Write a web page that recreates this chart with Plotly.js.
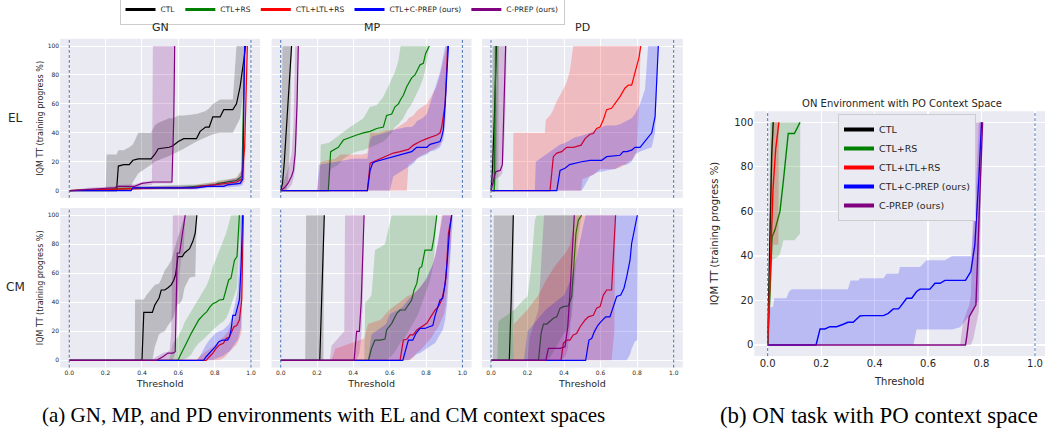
<!DOCTYPE html>
<html><head><meta charset="utf-8">
<script src="https://cdn.plot.ly/plotly-3.0.1.min.js"></script>
<style>html,body{margin:0;padding:0;background:#fff}#chart{width:1045px;height:433px}</style>
</head><body><div id="chart"></div>
<script>
// ---------------- labels / categories ----------------
const SERIES = ['CTL', 'CTL+RS', 'CTL+LTL+RS', 'CTL+C-PREP (ours)', 'C-PREP (ours)'];
const ENVIRONMENTS = ['GN', 'MP', 'PD'];
const CONTEXT_SPACES = ['EL', 'CM'];
const X_TICKS = [0, 0.2, 0.4, 0.6, 0.8, 1.0];
const X_TICK_LABELS = ['0.0', '0.2', '0.4', '0.6', '0.8', '1.0'];
const Y_TICKS = [0, 20, 40, 60, 80, 100];
const THRESHOLD_BOUNDS = [0, 1];
const Y_TITLE = 'IQM TT (training progress %)';
const X_TITLE = 'Threshold';
const RIGHT_TITLE = 'ON Environment with PO Context Space';
const CAPTION_A = '(a) GN, MP, and PD environments with EL and CM context spaces';
const CAPTION_B = '(b) ON task with PO context space';

// ---------------- data: [threshold, IQM, lower, upper] ----------------
// GN / EL
const GN_EL_CTL = [[0,0,0,0],[0.2,0,0,0],[0.205,0,0,25],[0.26,0,0,25],[0.27,17,0,28],[0.3,18,0,28],[0.33,18,0,30],[0.35,21,6,32],[0.38,22,12,40],[0.45,22,18,40],[0.47,25,20,45],[0.49,29,21,47],[0.55,30,24,50],[0.57,31,25,50],[0.6,34,27,52],[0.63,36,29,52],[0.7,36,34,53],[0.72,41,35,54],[0.75,44,37,55],[0.77,44,38,57],[0.79,51,39,60],[0.83,51,40,63],[0.85,56,40,63],[0.9,56,40,63],[0.92,60,45,100],[0.94,72,50,100],[0.96,90,70,100],[0.97,100,100,100]];
const GN_EL_RS = [[0,0,0,0],[0.1,0.5,0,1.5],[0.3,1,0,2.5],[0.4,2,1,3],[0.6,2,1,3.5],[0.7,3,2,4.5],[0.8,4,2.5,6],[0.82,5,3,7],[0.88,6,4,8],[0.92,7,5,9],[0.95,10,6,15],[0.965,100,100,100]];
const GN_EL_LTL = [[0,0,0,0],[0.3,1,0,2],[0.5,2,1,3],[0.68,2,1,3.5],[0.72,3,2,4.5],[0.8,4,2.5,6],[0.85,5,3,7],[0.92,6,4,9],[0.95,8,5,14],[0.965,30,6,100],[0.98,100,100,100]];
const GN_EL_CPREP_CTL = [[0,0,0,0],[0.34,0,0,1],[0.35,2,1,3],[0.7,2,1,3.5],[0.76,3,2,4.5],[0.85,3,2,6],[0.87,4,2.5,7],[0.94,5,3,9],[0.955,8,4,20],[0.965,100,100,100]];
const GN_EL_CPREP = [[0,0,0,0],[0.1,1,0,2],[0.25,2,1,3],[0.27,3,2,4],[0.36,3,2,4.5],[0.4,5,3,6],[0.455,6,4,7],[0.46,6,5,100],[0.565,6,5,100],[0.575,50,40,100],[0.58,100,100,100]];
// MP / EL
const MP_EL_CTL = [[0,0,0,0],[0.01,5,0,100],[0.02,20,0,100],[0.03,40,0,100],[0.04,65,5,100],[0.05,85,30,100],[0.06,100,100,100]];
const MP_EL_RS = [[0,0,0,0],[0.215,0,0,0],[0.22,0,0,32],[0.262,0,0,33],[0.275,27,15,34],[0.317,30,18,38],[0.345,35,22,41],[0.382,37,25,44],[0.418,38.5,27,47],[0.455,40,28,50],[0.492,41,30,58],[0.528,43,32,59],[0.565,44,34,65],[0.583,52,36,70],[0.611,53,40,78],[0.629,58,44,82],[0.648,60,46,90],[0.66,63,48,100],[0.675,66,50,100],[0.694,72,55,100],[0.721,78,60,100],[0.739,80,65,100],[0.767,87,72,100],[0.785,88,78,100],[0.798,95,85,100],[0.818,100,100,100]];
const MP_EL_LTL = [[0,0,0,0],[0.2,0,0,0],[0.22,0,0,20],[0.3,0,0,22],[0.33,0,0,25],[0.45,0,0,25],[0.477,0,0,26],[0.492,19,0,40],[0.51,20,0,40],[0.538,22,0,40],[0.565,23,0,41],[0.593,25,0,42],[0.62,26,0,42],[0.657,27,0,45],[0.694,28,0,48],[0.703,28.5,18,50],[0.73,31.5,20,52],[0.749,33,22,55],[0.767,34,24,57],[0.804,36,26,60],[0.831,37,28,66],[0.859,38.5,30,72],[0.877,40,32,80],[0.886,44,38,85],[0.905,60,50,95],[0.914,83,75,100],[0.919,100,100,100]];
const MP_EL_CPREP_CTL = [[0,0,0,0],[0.2,0,0,0],[0.21,0,0,18],[0.3,0,0,20],[0.4,0,0,22],[0.477,0,0,22],[0.492,14,0,35],[0.506,19,0,38],[0.519,20,0,38],[0.547,21,0,39],[0.583,22,0,40],[0.6,22.5,0,41],[0.62,23.5,10,42],[0.657,24.5,13,43],[0.694,26,16,44],[0.721,27,18,44],[0.739,29,20,46],[0.749,30,22,48],[0.78,30,24,50],[0.804,30,25,53],[0.822,32,27,60],[0.85,33,28,70],[0.877,34,30,82],[0.886,37,32,88],[0.895,42,35,95],[0.905,60,45,100],[0.914,83,70,100],[0.923,100,100,100]];
const MP_EL_CPREP = [[0,0,0,0],[0.02,2,0,8],[0.04,5,1,15],[0.06,10,4,25],[0.07,14,8,45],[0.08,26,15,100],[0.09,60,40,100],[0.097,100,100,100]];
// PD / EL
const PD_EL_CTL = [[0,0,0,0],[0.008,15,0,100],[0.018,50,0,100],[0.026,85,5,100],[0.03,100,20,100],[0.04,100,100,100]];
const PD_EL_RS = [[0,0,0,0],[0.012,0,0,0],[0.015,0,0,100],[0.018,0,0,100],[0.026,100,0,100],[0.04,100,0,100],[0.044,100,100,100]];
const PD_EL_LTL = [[0,0,0,0],[0.12,0,0,0],[0.122,0,0,40],[0.295,0,0,40],[0.3,0,0,49],[0.323,0,0,52],[0.341,23.5,0,56],[0.36,26,0,62],[0.387,27,0,68],[0.414,30,0,75],[0.432,30,0,83],[0.45,30,0,100],[0.493,31.5,0,100],[0.5,33,8,100],[0.515,36,9,100],[0.542,39,10,100],[0.56,39.5,11,100],[0.578,43,13,100],[0.597,44,15,100],[0.615,49,15,100],[0.633,56,15,100],[0.66,57,15,100],[0.679,60,15,100],[0.706,65,16,100],[0.734,71,18,100],[0.752,73,20,100],[0.77,73,21,100],[0.788,81,24,100],[0.8,86,28,100],[0.81,92,60,100],[0.82,100,100,100]];
const PD_EL_CPREP_CTL = [[0,0,0,0],[0.24,0,0,0],[0.245,0,0,20],[0.3,0,0,25],[0.36,0,0,30],[0.378,14,0,32],[0.405,15.5,0,33],[0.43,18,0,35],[0.46,19,0,37],[0.496,20,0,38],[0.542,21,10,40],[0.59,21,13,43],[0.606,21,13,44],[0.633,23.5,14,45],[0.68,24,15,45],[0.706,24.5,17,46],[0.724,27,18,47],[0.743,27,18,48],[0.77,28,20,50],[0.788,30,25,53],[0.816,30,27,60],[0.843,34,28,70],[0.86,37,29,100],[0.88,40,30,100],[0.898,51,40,100],[0.907,72,60,100],[0.912,90,80,100],[0.916,100,100,100]];
const PD_EL_CPREP = [[0,0,0,0],[0.025,13,8,40],[0.035,13.5,9,100],[0.05,14,10,100],[0.062,18,12,100],[0.07,50,25,100],[0.08,100,60,100],[0.086,100,100,100]];
// GN / CM
const GN_CM_CTL = [[0,0,0,0],[0.36,0,0,0],[0.362,0,0,42],[0.4,0,0,42],[0.41,33,0,42],[0.425,33,0,45],[0.457,33,0,50],[0.47,38,9,52],[0.494,43,18,53],[0.506,48.5,19,56],[0.525,48.5,20,62],[0.543,50,24,65],[0.561,52,27,69],[0.574,55,30,75],[0.585,59,35,80],[0.598,71.5,39,85],[0.607,71.5,39,88],[0.622,71.5,42,95],[0.634,74,50,100],[0.662,77,57,100],[0.68,82,57.7,100],[0.693,87.6,57.7,100],[0.702,100,100,100]];
const GN_CM_RS = [[0,0,0,0],[0.55,0,0,0],[0.57,0,0,11.7],[0.598,0,0,16],[0.607,2.5,0,18.6],[0.622,6,0,22],[0.634,9.4,1,26],[0.653,14,2,30],[0.671,18.6,4,33],[0.689,23,8,37],[0.713,28,12,42],[0.735,31,14,47],[0.757,33.6,17,52],[0.775,37,19,58],[0.79,39,21,64.6],[0.808,40,23,70],[0.826,41.6,25,76],[0.848,42,26.7,82],[0.863,48.5,29,87.6],[0.877,55.4,33,94],[0.89,56.6,37,100],[0.909,69,45,100],[0.923,71.5,50,100],[0.936,100,80,100],[0.95,100,100,100]];
const GN_CM_LTL = [[0,0,0,0],[0.7,0,0,0],[0.717,0,0,3],[0.753,0,0,6],[0.771,2.5,0,8],[0.79,5,0,9.4],[0.808,8.3,0,11.5],[0.826,10.6,0,14],[0.848,11.7,1.5,16],[0.863,15,3,18.5],[0.881,16,6,21],[0.89,18.6,7,23],[0.905,23,9,27],[0.921,24,11,33],[0.936,27.8,15,45],[0.949,41.6,20,80],[0.958,100,100,100]];
const GN_CM_CPREP_CTL = [[0,0,0,0],[0.7,0,0,0],[0.717,0,0,2.5],[0.739,0,0,8],[0.753,2.5,0,11],[0.771,5,0,14],[0.79,7,0,17],[0.804,9.4,1,18.6],[0.823,12.9,2,20],[0.845,14,3,21],[0.872,14,5.5,24],[0.881,16,6,25.5],[0.89,21,7,28],[0.9,31,9.4,32],[0.914,31,12,40],[0.927,37,14,48.5],[0.936,41.6,18,70],[0.945,64.6,23,100],[0.954,100,60,100],[0.958,100,100,100]];
const GN_CM_CPREP = [[0,0,0,0],[0.45,0,0,0],[0.48,0,0,2.5],[0.515,2.5,0,5],[0.543,5,0,6],[0.552,5,0,7],[0.561,5,0,18.6],[0.57,5,0,100],[0.583,6,5,100],[0.594,74,40,100],[0.607,74,60,100],[0.616,81,70,100],[0.629,92,75,100],[0.638,100,100,100]];
// MP / CM
const MP_CM_CTL = [[0,0,0,0],[0.135,0,0,0],[0.14,0,0,100],[0.215,0,0,100],[0.225,40,0,100],[0.235,80,0,100],[0.24,100,100,100]];
const MP_CM_RS = [[0,0,0,0],[0.46,0,0,0],[0.465,0,0,40],[0.483,0,0,42],[0.5,8.3,0,45],[0.519,14,0,76],[0.547,14,0,78],[0.574,14.7,0,80],[0.583,21,0,85],[0.6,24,2,95],[0.611,25.5,3,100],[0.639,32.4,8,100],[0.657,34.7,12,100],[0.684,34.7,16,100],[0.703,38,20,100],[0.721,41.6,24,100],[0.734,48.5,27,100],[0.749,53,30,100],[0.763,63.4,34,100],[0.776,64.6,38,100],[0.794,76,45,100],[0.813,76,52,100],[0.831,76,60,100],[0.844,85,70,100],[0.859,100,100,100]];
const MP_CM_LTL = [[0,0,0,0],[0.28,0,0,0],[0.3,0,0,8],[0.46,0,0,15],[0.48,0,0,25],[0.55,0,0,28],[0.6,0,0,35],[0.657,0,0,40],[0.675,14,0,42],[0.694,14.5,0,44],[0.712,17.5,0,45],[0.73,17.5,2,46],[0.749,21,5,48],[0.776,23,8,52],[0.804,25.5,12,56],[0.831,31,16,64],[0.85,34.7,20,72],[0.868,37,23,82],[0.886,41.6,28,100],[0.899,48.5,32,100],[0.91,57.7,40,100],[0.923,87.6,60,100],[0.936,96.7,80,100],[0.941,100,100,100]];
const MP_CM_CPREP_CTL = [[0,0,0,0],[0.48,0,0,0],[0.5,0,0,18],[0.58,0,0,25],[0.6,0,0,32],[0.65,0,0,35],[0.672,0,0,37],[0.69,8.3,0,40],[0.703,14,0,42],[0.727,14,2,45],[0.745,18.6,4,47],[0.767,22,5,50],[0.794,22,7,55],[0.813,23,9,60],[0.837,24,11,66],[0.85,31,12,72],[0.859,34.7,14,78],[0.877,41.6,18,90],[0.892,42.8,21,100],[0.905,53,28,100],[0.917,69,40,100],[0.928,87.6,60,100],[0.941,100,85,100],[0.948,100,100,100]];
const MP_CM_CPREP = [[0,0,0,0],[0.27,0,0,0],[0.28,0,0,10],[0.35,0,0,20],[0.354,0,0,100],[0.404,0,0,100],[0.418,20,0,100],[0.433,20,5,100],[0.443,40,15,100],[0.452,70,40,100],[0.459,100,100,100]];
// PD / CM
const PD_CM_CTL = [[0,0,0,0],[0.01,0,0,0],[0.015,0,0,100],[0.1,0,0,100],[0.11,40,0,100],[0.118,80,0,100],[0.122,100,0,100],[0.125,100,100,100]];
const PD_CM_RS = [[0,0,0,0],[0.035,0,0,0],[0.04,0,0,27],[0.1,0,0,32],[0.13,0,0,35],[0.177,0,0,41.6],[0.2,0,0,44],[0.22,0,0,64.6],[0.24,0,0,96.7],[0.25,0,0,100],[0.26,0,0,100],[0.274,18.6,0,100],[0.287,25,0,100],[0.305,25,0,100],[0.323,26.7,2,100],[0.341,29,6,100],[0.36,30,10,100],[0.378,36,14,100],[0.396,37,18,100],[0.423,37.5,22,100],[0.442,44,30,100],[0.454,64.6,45,100],[0.465,87.6,65,100],[0.478,96.7,85,100],[0.496,100,100,100]];
const PD_CM_LTL = [[0,0,0,0],[0.12,0,0,0],[0.125,0,0,25],[0.2,0,0,35],[0.26,0,0,45],[0.3,0,0,55],[0.35,0,0,65],[0.383,0,0,70],[0.396,11.7,0,72],[0.414,14,0,75],[0.432,14,0,80],[0.45,17.5,0,90],[0.46,18,0,100],[0.469,18.6,0,100],[0.487,23,0,100],[0.515,27.8,0,100],[0.533,30,0,100],[0.56,31,0,100],[0.578,36,0,100],[0.597,37,0,100],[0.615,45,0,100],[0.633,48.5,0,100],[0.66,48.5,0,100],[0.675,87.6,20,100],[0.682,100,100,100]];
const PD_CM_CPREP_CTL = [[0,0,0,0],[0.18,0,0,0],[0.2,0,0,20],[0.3,0,0,35],[0.4,0,0,45],[0.45,0,0,60],[0.5,0,0,90],[0.518,0,0,100],[0.536,14,0,100],[0.551,15,0,100],[0.566,19.8,0,100],[0.584,24,0,100],[0.602,26.7,0,100],[0.628,30,0,100],[0.651,30,0,100],[0.67,37,0,100],[0.688,44,0,100],[0.71,45,0,100],[0.728,49.7,0,100],[0.743,57.7,0,100],[0.761,69,4,100],[0.77,80.7,8,100],[0.788,92,13,100],[0.801,100,14,100],[0.806,100,100,100]];
const PD_CM_CPREP = [[0,0,0,0],[0.2,0,0,0],[0.21,0,0,15],[0.26,0,0,35],[0.29,0,0,100],[0.3,0,0,100],[0.314,8.3,0,100],[0.341,8.3,0,100],[0.378,8.3,0,100],[0.405,9.4,2,100],[0.42,23,8,100],[0.432,46,20,100],[0.445,76,50,100],[0.456,100,100,100]];
// ON / PO
const ON_PO_CTL = [[0,0,0,0],[0.005,30,20,40],[0.01,60,45,75],[0.015,85,70,100],[0.021,100,100,100]];
const ON_PO_RS = [[0,0,0,0],[0.005,12,0,50],[0.009,24.7,10,100],[0.015,45,38,100],[0.017,48.7,38,100],[0.027,51.6,39,100],[0.04,58,39.7,100],[0.046,60,41,100],[0.059,74,47,100],[0.077,95,47,100],[0.1,95,47,100],[0.121,100,50,100],[0.122,100,100,100]];
const ON_PO_LTL = [[0,0,0,0],[0.01,40,20,70],[0.02,70,45,100],[0.03,88,45,100],[0.04,98,45,100],[0.042,100,100,100]];
const ON_PO_CPREP_CTL = [[0,0,0,0],[0.01,0,0,17],[0.02,0,0,17],[0.025,0,0,21],[0.07,0,0,21],[0.08,0,0,24],[0.09,0,0,25],[0.181,0,0,25],[0.196,7.2,0,25],[0.214,7.2,0,25],[0.233,8.2,0,25],[0.258,8.2,0,25],[0.283,9.3,0,25],[0.3,10.2,0,25],[0.31,10.2,0,29],[0.32,10.2,0,29],[0.339,12.3,0,29],[0.345,13,0,30],[0.358,13.2,0,30],[0.433,13.2,0,30],[0.445,13.8,0,32],[0.451,14.2,0,32],[0.47,16.2,0,32],[0.489,16.2,0,32],[0.495,17,0,35],[0.507,18.7,0,35],[0.52,21,0,35],[0.539,21,0,35],[0.545,22,0,35],[0.557,24,7,35],[0.57,25.1,7,35],[0.594,25.1,7,38],[0.607,25.1,7,38],[0.626,27.7,7,38],[0.645,27.7,7,38],[0.663,29,7,38],[0.69,29,7,40],[0.72,29,8,40],[0.74,29,11,40],[0.76,33,14,40],[0.775,45,18,60],[0.79,75,20,100],[0.8,100,100,100]];
const ON_PO_CPREP = [[0,0,0,0],[0.72,0,0,0],[0.73,0,0,10],[0.74,0,0,14],[0.745,4,0,15],[0.754,12.7,0,18],[0.76,14,0,22],[0.77,16,3,70],[0.779,18,8,100],[0.79,55,15,100],[0.804,100,100,100]];

// ---------------- styling ----------------
const COLORS = ['#000000', '#008000', '#ff0000', '#0000ff', '#800080'];
const FILLS = ['rgba(0,0,0,0.2)', 'rgba(0,128,0,0.2)', 'rgba(255,0,0,0.2)', 'rgba(0,0,255,0.2)', 'rgba(128,0,128,0.2)'];
const W = 1045, H = 433;
const FONT = 'DejaVu Sans, sans-serif';
const TXT = '#262626';
const fx = v => v / W;
const fy = v => 1 - v / H;

const PANELS = [
  {series: [GN_EL_CTL, GN_EL_RS, GN_EL_LTL, GN_EL_CPREP_CTL, GN_EL_CPREP], xp: [60.2, 260.1], yp: [38.8, 197.9], xl: false, yl: true},
  {series: [MP_EL_CTL, MP_EL_RS, MP_EL_LTL, MP_EL_CPREP_CTL, MP_EL_CPREP], xp: [271.6, 471.5], yp: [38.8, 197.9], xl: false, yl: false},
  {series: [PD_EL_CTL, PD_EL_RS, PD_EL_LTL, PD_EL_CPREP_CTL, PD_EL_CPREP], xp: [481.9, 682.8], yp: [38.8, 197.9], xl: false, yl: false},
  {series: [GN_CM_CTL, GN_CM_RS, GN_CM_LTL, GN_CM_CPREP_CTL, GN_CM_CPREP], xp: [60.2, 260.1], yp: [208, 367.6], xl: true, yl: true},
  {series: [MP_CM_CTL, MP_CM_RS, MP_CM_LTL, MP_CM_CPREP_CTL, MP_CM_CPREP], xp: [271.6, 471.5], yp: [208, 367.6], xl: true, yl: false},
  {series: [PD_CM_CTL, PD_CM_RS, PD_CM_LTL, PD_CM_CPREP_CTL, PD_CM_CPREP], xp: [481.9, 682.8], yp: [208, 367.6], xl: true, yl: false},
  {series: [ON_PO_CTL, ON_PO_RS, ON_PO_LTL, ON_PO_CPREP_CTL, ON_PO_CPREP], xp: [754.3, 1045], yp: [111.2, 356.1], xl: true, yl: true, big: true}
];

const traces = [];
const layout = {
  width: W, height: H, autosize: false,
  margin: {l: 0, r: 0, t: 0, b: 0, pad: 0, autoexpand: false},
  paper_bgcolor: '#ffffff', plot_bgcolor: '#EAEAF2',
  font: {family: FONT, color: TXT},
  showlegend: true,
  shapes: [], annotations: [],
  title: {text: RIGHT_TITLE, font: {size: 10, color: TXT}, x: fx(902), xanchor: 'center', xref: 'paper', y: fy(103), yanchor: 'middle', yref: 'paper'},
  legend: {orientation: 'h', x: fx(342), xanchor: 'center', y: 1 + 6 / H, yanchor: 'top', font: {size: 7.5, color: TXT}, bgcolor: '#ffffff', bordercolor: '#cccccc', borderwidth: 1, itemwidth: 30},
  legend2: {orientation: 'v', x: fx(838), xanchor: 'left', y: fy(114), yanchor: 'top', font: {size: 9.5, color: TXT}, bgcolor: '#EAEAF2', bordercolor: '#cccccc', borderwidth: 1, itemwidth: 30, tracegroupgap: 0}
};

PANELS.forEach((p, i) => {
  const n = i + 1;
  const xa = n === 1 ? 'x' : 'x' + n;
  const ya = n === 1 ? 'y' : 'y' + n;
  const big = !!p.big;
  const lw = big ? 1.4 : 1.2;
  p.series.forEach((pts, s) => {
    const xs = pts.map(d => d[0]);
    const lo = pts.map(d => d[2]);
    const hi = pts.map(d => d[3]);
    traces.push({
      type: 'scatter', mode: 'lines', xaxis: xa, yaxis: ya, showlegend: false, hoverinfo: 'skip',
      x: xs.concat(xs.slice().reverse()), y: hi.concat(lo.slice().reverse()),
      fill: 'toself', fillcolor: FILLS[s], line: {width: 0, color: 'rgba(0,0,0,0)'}
    });
    let end = pts.findIndex(d => d[1] >= 100);
    if (end < 0) end = pts.length - 1;
    const lp = pts.slice(0, end + 1);
    traces.push({
      type: 'scatter', mode: 'lines', xaxis: xa, yaxis: ya, showlegend: false, hoverinfo: 'skip',
      x: lp.map(d => d[0]), y: lp.map(d => d[1]),
      line: {color: COLORS[s], width: lw}
    });
  });
  const tickSize = big ? 10 : 6;
  layout['xaxis' + (n === 1 ? '' : n)] = {
    domain: [fx(p.xp[0]), Math.min(1, fx(p.xp[1]))], anchor: ya,
    range: [-0.05, big ? (1045 - 767.7) / 267.3 : 1.05],
    tickvals: X_TICKS, ticktext: X_TICK_LABELS, showticklabels: p.xl,
    tickfont: {size: tickSize, color: TXT}, ticks: '', gridcolor: '#ffffff', gridwidth: big ? 1.2 : 1,
    zeroline: false, showline: false, fixedrange: true,
    title: p.xl ? {text: X_TITLE, font: {size: big ? 10 : 9.5, color: TXT}, standoff: big ? 9 : 5} : undefined
  };
  layout['yaxis' + (n === 1 ? '' : n)] = {
    domain: [fy(p.yp[1]), fy(p.yp[0])], anchor: xa,
    range: [-5, 105], tickvals: Y_TICKS, showticklabels: p.yl,
    tickfont: {size: tickSize, color: TXT}, ticks: '', gridcolor: '#ffffff', gridwidth: big ? 1.2 : 1,
    zeroline: false, showline: false, fixedrange: true,
    title: p.yl ? {text: Y_TITLE, font: {size: big ? 10 : 8, color: TXT}, standoff: big ? 13 : 2} : undefined
  };
  THRESHOLD_BOUNDS.forEach(b => {
    layout.shapes.push({type: 'line', xref: xa, yref: ya + ' domain', x0: b, x1: b, y0: 0, y1: 1,
      line: {color: '#4C72B0', width: 1, dash: '3px,2px'}});
  });
});

// legend entries (thick lines, as in the reference)
SERIES.forEach((name, s) => {
  traces.push({type: 'scatter', mode: 'lines', x: [null], y: [null], xaxis: 'x', yaxis: 'y', name: name,
    legend: 'legend', showlegend: true, line: {color: COLORS[s], width: 3}});
});
SERIES.forEach((name, s) => {
  traces.push({type: 'scatter', mode: 'lines', x: [null], y: [null], xaxis: 'x7', yaxis: 'y7', name: name,
    legend: 'legend2', showlegend: true, line: {color: COLORS[s], width: 4}});
});

// column / row labels
const colCenters = [160.2, 371.5, 582.3];
ENVIRONMENTS.forEach((e, i) => layout.annotations.push({text: e, x: fx(colCenters[i]), y: fy(28), xref: 'paper', yref: 'paper',
  xanchor: 'center', yanchor: 'middle', showarrow: false, font: {size: 11, color: TXT}}));
const rowCenters = [118, 287];
CONTEXT_SPACES.forEach((c, i) => layout.annotations.push({text: c, x: fx(15), y: fy(rowCenters[i]), xref: 'paper', yref: 'paper',
  xanchor: 'center', yanchor: 'middle', showarrow: false, font: {size: 12, color: TXT}}));
// captions
layout.annotations.push({text: CAPTION_A, x: fx(40), y: fy(415), xref: 'paper', yref: 'paper', xanchor: 'left', yanchor: 'middle',
  showarrow: false, font: {family: 'Liberation Serif, Times New Roman, serif', size: 21, color: '#000'}});
layout.annotations.push({text: CAPTION_B, x: fx(718), y: fy(415), xref: 'paper', yref: 'paper', xanchor: 'left', yanchor: 'middle',
  showarrow: false, font: {family: 'Liberation Serif, Times New Roman, serif', size: 22.8, color: '#000'}});

Plotly.newPlot('chart', traces, layout, {staticPlot: true, displayModeBar: false});
</script>
</body></html>
